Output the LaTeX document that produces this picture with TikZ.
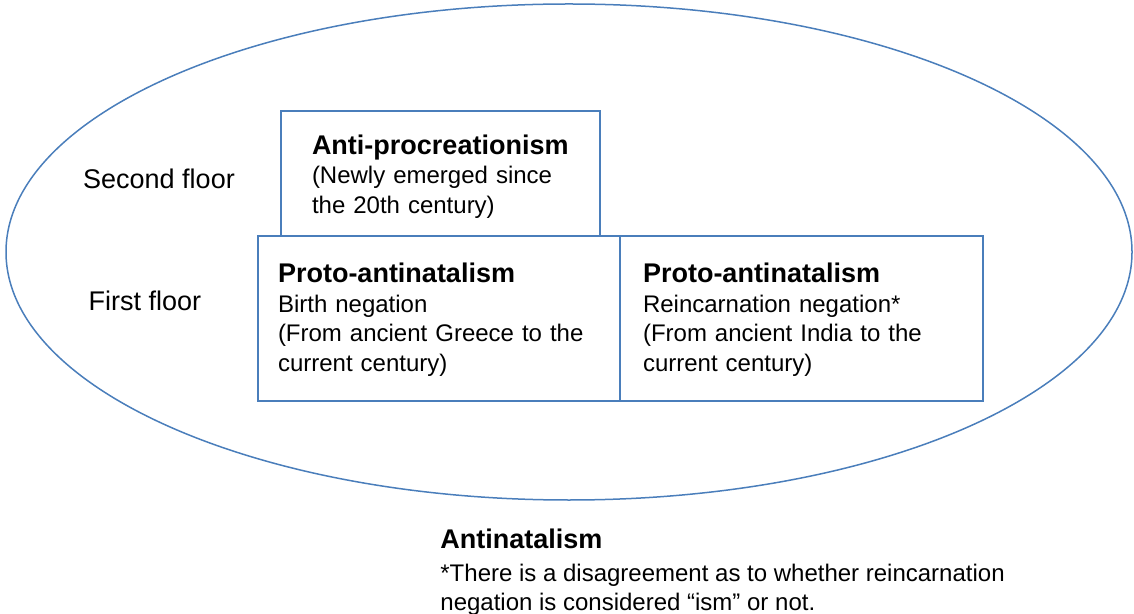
\documentclass[tikz,border=0pt]{standalone}
\usepackage{fontspec}
\setmainfont{Liberation Sans}
\usetikzlibrary{positioning,shapes.geometric}
\definecolor{floorblue}{RGB}{74,126,187}
\newcommand{\heading}[1]{{\fontsize{13.5pt}{15.5pt}\selectfont\bfseries #1}}

\begin{document}
\begin{tikzpicture}[x=0.5pt,y=-0.5pt,
    every node/.style={font=\fontsize{12pt}{14.75pt}\selectfont},
    floorbox/.style={draw=floorblue,line width=0.75pt,align=left,outer sep=0pt,
      minimum height=82.5pt,inner ysep=0pt},
    floorlabel/.style={font=\fontsize{13.5pt}{15.5pt}\selectfont}]
  \useasboundingbox (0,0) rectangle (1134,614);

  \node[draw=floorblue,line width=0.75pt,ellipse,inner sep=0pt,
    minimum width=563pt,minimum height=248pt] (whole) at (569,252) {};

  \node[floorbox,text width=161pt,inner xsep=10pt,text height=11pt] (birth) at (439,318.5)
    {\heading{Proto-antinatalism}\\[0pt]Birth negation\\(From ancient Greece to the\\current century)};
  \node[floorbox,text width=158.5pt,inner xsep=11.5pt,text height=11pt,right=0pt of birth] (rebirth)
    {\heading{Proto-antinatalism}\\[0pt]Reincarnation negation*\\(From ancient India to the\\current century)};
  \node[floorbox,text width=128.5pt,inner xsep=15.5pt,minimum height=62.5pt,text height=12.7pt,
    above right=0pt and 11.5pt of birth.north west] (procreation)
    {\heading{Anti-procreationism}\\[0pt](Newly emerged since\\the 20th century)};

  \node[floorlabel] (second) at (159,179) {Second floor};
  \node[floorlabel] (first) at (145,301) {First floor};

  \node[align=left,inner sep=0pt,anchor=north west,
    font=\fontsize{12pt}{14.5pt}\selectfont] (note) at (440,529)
    {\heading{Antinatalism}\\[2pt]*There is a disagreement as to whether reincarnation\\negation is considered “ism” or not.};
\end{tikzpicture}
\end{document}
